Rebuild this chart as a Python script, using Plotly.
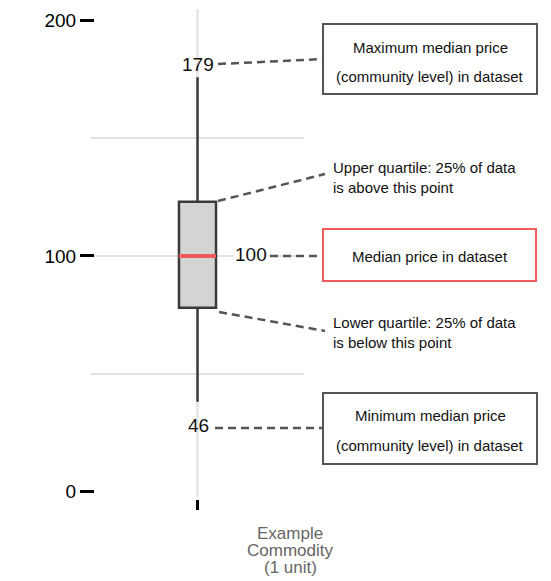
import plotly.graph_objects as go

# ---------------- data ----------------
categories = ["Example\nCommodity\n(1 unit)"]
lower_fence = [38]
q1_values = [78]
median_values = [100]
q3_values = [123]
upper_fence = [176]
max_label = ["179"]
median_label = ["100"]
min_label = ["46"]
y_tick_values = [0, 100, 200]
y_tick_labels = ["0", "100", "200"]
grid_values = [50, 100, 150]

note_max = ["Maximum median price", "(community level) in dataset"]
note_upper = "Upper quartile: 25% of data<br>is above this point"
note_median = ["Median price in dataset"]
note_lower = "Lower quartile: 25% of data<br>is below this point"
note_min = ["Minimum median price", "(community level) in dataset"]

# ---------------- geometry helpers (window pixels -> paper) ----------------
OFF = 8  # page body margin
W, H = 551 - OFF, 581 - OFF
def PX(x):
    return (x - OFF) / W
def PY(y):
    return 1 - (y - OFF) / H

FONT = "Arial, Liberation Sans, Helvetica, sans-serif"
DASH_COLOR = "#555555"
RED = "#f25a5a"

fig = go.Figure()
fig.add_trace(go.Box(
    x=[categories[0]],
    q1=q1_values, median=median_values, q3=q3_values,
    lowerfence=lower_fence, upperfence=upper_fence,
    fillcolor="#d4d4d4",
    line=dict(color="#3a3a3a", width=2.5),
    whiskerwidth=0,
    width=0.174,
    boxpoints=False,
    hoverinfo="skip",
    showlegend=False,
))

shapes = []
# red median line drawn through data coordinates
shapes.append(dict(type="line", xref="x", yref="y",
                   x0=-0.087, x1=0.087, y0=median_values[0], y1=median_values[0],
                   line=dict(color=RED, width=4), layer="above"))

def dashed(x0, y0, x1, y1):
    shapes.append(dict(type="line", xref="paper", yref="paper",
                       x0=PX(x0), y0=PY(y0), x1=PX(x1), y1=PY(y1),
                       line=dict(color=DASH_COLOR, width=2.5, dash="8px,5px")))

def rect(x0, y0, x1, y1, color):
    shapes.append(dict(type="rect", xref="paper", yref="paper",
                       x0=PX(x0), y0=PY(y0), x1=PX(x1), y1=PY(y1),
                       line=dict(color=color, width=2), fillcolor="white"))

dashed(218, 64, 323, 59)
dashed(218, 201, 325, 174)
dashed(270, 256, 323, 256)
dashed(219, 312, 325, 331)
dashed(215, 428, 323, 428)

rect(323, 24, 537, 94, "#555555")
rect(323, 229, 536, 281, RED)
rect(323, 393, 537, 464, "#555555")

annotations = []
def text(x, y, s, size=15, color="#111111", xanchor="center", align="center", bg=None):
    a = dict(x=PX(x), y=PY(y), xref="paper", yref="paper", text=s, showarrow=False,
             xanchor=xanchor, yanchor="middle", align=align,
             font=dict(family=FONT, size=size, color=color))
    if bg:
        a["bgcolor"] = bg
    annotations.append(a)

# value labels
text(198, 65, max_label[0], size=19)
text(251, 254, median_label[0], size=19, bg="white")
text(198, 425, min_label[0], size=19)

# boxed notes
text(430, 47, note_max[0])
text(430, 77, note_max[1])
text(430, 256, note_median[0])
text(430, 415, note_min[0])
text(430, 445, note_min[1])

# quartile notes
text(331, 177, note_upper, xanchor="left", align="left")
text(331, 332, note_lower, xanchor="left", align="left")

# category label (split into lines)
for i, line in enumerate(categories[0].split("\n")):
    text(290, 533 + 17 * i, line, size=17, color="#666666")

fig.update_layout(
    width=W, height=H,
    margin=dict(l=0, r=0, t=0, b=0),
    paper_bgcolor="white", plot_bgcolor="white",
    showlegend=False, hovermode=False,
    font=dict(family=FONT, color="#000000"),
    shapes=shapes, annotations=annotations,
    xaxis=dict(
        domain=[PX(91), PX(304)],
        range=[-0.5, 0.5],
        type="category",
        anchor="free", position=PY(499),
        showticklabels=False,
        ticks="outside", ticklen=10, tickwidth=3, tickcolor="#000000",
        showgrid=True, gridcolor="#e9e9e9", gridwidth=3,
        showline=False, zeroline=False, automargin=False, fixedrange=True,
    ),
    yaxis=dict(
        domain=[PY(497), PY(9)],
        range=[-2.5, 205],
        anchor="free", position=PX(94),
        tickmode="array", tickvals=y_tick_values, ticktext=y_tick_labels,
        ticks="outside", ticklen=14, tickwidth=2.5, tickcolor="#000000",
        tickfont=dict(size=19, color="#000000"),
        showgrid=False,
        minor=dict(tickmode="array", tickvals=grid_values, showgrid=True,
                   gridcolor="#e3e3e3", gridwidth=1.5, ticks=""),
        showline=False, zeroline=False, automargin=False, fixedrange=True,
    ),
)

fig.write_html("out.html")
